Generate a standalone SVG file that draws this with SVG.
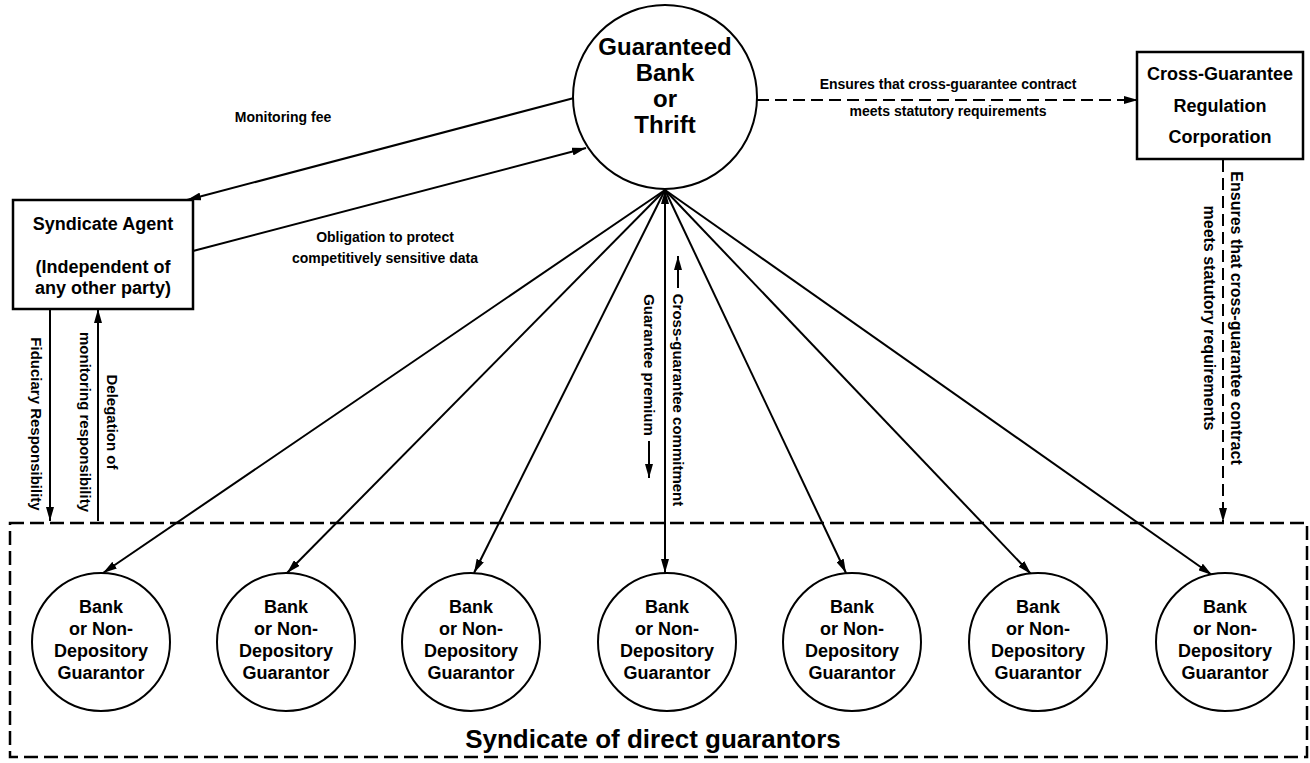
<svg xmlns="http://www.w3.org/2000/svg" width="1310" height="763" viewBox="0 0 1310 763">
<style>
  text { font-family: "Liberation Sans", Arial, Helvetica, sans-serif; font-weight: bold; fill: #000; text-anchor: middle; }
  .shape { fill: #fff; stroke: #000; stroke-width: 2; }
  .box { fill: #fff; stroke: #000; stroke-width: 2.5; }
  .conn { fill: none; stroke: #000; stroke-width: 2; }
  .dash { fill: none; stroke: #000; stroke-width: 2; stroke-dasharray: 12 6; }
  .group { fill: none; stroke: #000; stroke-width: 2.5; stroke-dasharray: 14 6; }
  .big { font-size: 24px; }
  .node { font-size: 18px; }
  .lbl { font-size: 14px; }
  .vlbl { font-size: 15px; }
  .vlbl16 { font-size: 16px; }
  .bottom { font-size: 26px; }
</style>
<defs>
  <marker id="arr" viewBox="0 0 14 8" refX="14" refY="4" markerWidth="14" markerHeight="8" markerUnits="userSpaceOnUse" orient="auto-start-reverse">
    <path d="M0,0 L14,4 L0,8 z" fill="#000"/>
  </marker>
</defs>

<rect width="1310" height="763" fill="#fff"/>

<g id="syndicate-group">
  <rect class="group" x="10" y="523" width="1297" height="234"/>
  <text class="bottom" x="653" y="748">Syndicate of direct guarantors</text>
</g>

<g id="connectors">
  <!-- Guaranteed bank to CGRC -->
  <line class="dash" x1="757" y1="100" x2="1138" y2="100" marker-end="url(#arr)"/>
  <!-- Monitoring fee -->
  <line class="conn" x1="574" y1="98" x2="187" y2="200" marker-end="url(#arr)"/>
  <!-- Obligation -->
  <line class="conn" x1="193" y1="251" x2="586" y2="148" marker-end="url(#arr)"/>
  <!-- Fiduciary -->
  <line class="conn" x1="50" y1="309" x2="50" y2="521" marker-end="url(#arr)"/>
  <!-- Delegation -->
  <line class="conn" x1="98" y1="521" x2="98" y2="309" marker-end="url(#arr)"/>
  <!-- CGRC to syndicate -->
  <line class="dash" x1="1223" y1="160" x2="1223" y2="522" marker-end="url(#arr)"/>
  <!-- radial lines -->
  <line class="conn" x1="665" y1="190" x2="103" y2="573" marker-end="url(#arr)"/>
  <line class="conn" x1="665" y1="190" x2="287" y2="573" marker-end="url(#arr)"/>
  <line class="conn" x1="665" y1="190" x2="474" y2="573" marker-end="url(#arr)"/>
  <line class="conn" x1="665" y1="190" x2="665" y2="573" marker-start="url(#arr)" marker-end="url(#arr)"/>
  <line class="conn" x1="665" y1="190" x2="846" y2="573" marker-end="url(#arr)"/>
  <line class="conn" x1="665" y1="190" x2="1031" y2="574" marker-end="url(#arr)"/>
  <line class="conn" x1="665" y1="190" x2="1212" y2="575" marker-end="url(#arr)"/>
  <!-- small direction arrows beside the central labels -->
  <line class="conn" x1="678" y1="288" x2="678" y2="256" marker-end="url(#arr)"/>
  <line class="conn" x1="649" y1="441" x2="649" y2="478" marker-end="url(#arr)"/>

  <!-- labels -->
  <text class="lbl" x="948" y="89">Ensures that cross-guarantee contract</text>
  <text class="lbl" x="948" y="116">meets statutory requirements</text>
  <text class="lbl" x="283" y="122">Monitoring fee</text>
  <text class="lbl" x="385" y="242">Obligation to protect</text>
  <text class="lbl" x="385" y="263">competitively sensitive data</text>

  <g transform="translate(36,424) rotate(90)"><text class="vlbl" dy="0.36em">Fiduciary Responsibility</text></g>
  <g transform="translate(112,422) rotate(90)"><text class="vlbl" dy="0.36em">Delegation of</text></g>
  <g transform="translate(85,422) rotate(90)"><text class="vlbl" dy="0.36em">monitoring responsibility</text></g>
  <g transform="translate(678,400) rotate(90)"><text class="vlbl" dy="0.36em">Cross-guarantee commitment</text></g>
  <g transform="translate(649,365) rotate(90)"><text class="vlbl" dy="0.36em">Guarantee premium</text></g>
  <g transform="translate(1237,318) rotate(90)"><text class="vlbl16" dy="0.36em">Ensures that cross-guarantee contract</text></g>
  <g transform="translate(1210,318) rotate(90)"><text class="vlbl16" dy="0.36em">meets statutory requirements</text></g>
</g>

<g id="guaranteed-bank">
  <circle class="shape" cx="665" cy="97" r="92"/>
  <text class="big" x="665" y="55">Guaranteed</text>
  <text class="big" x="665" y="81">Bank</text>
  <text class="big" x="665" y="107">or</text>
  <text class="big" x="665" y="133">Thrift</text>
</g>

<g id="cgrc">
  <rect class="box" x="1137" y="52" width="166" height="107"/>
  <text class="node" x="1220" y="80">Cross-Guarantee</text>
  <text class="node" x="1220" y="112">Regulation</text>
  <text class="node" x="1220" y="143">Corporation</text>
</g>

<g id="syndicate-agent">
  <rect class="box" x="13" y="200" width="180" height="109"/>
  <text class="node" x="103" y="230">Syndicate Agent</text>
  <text class="node" x="103" y="273">(Independent of</text>
  <text class="node" x="103" y="294">any other party)</text>
</g>

<g id="guarantor-1">
  <circle class="shape" cx="101" cy="642" r="69"/>
  <text class="node" x="101" y="613">Bank</text>
  <text class="node" x="101" y="635">or Non-</text>
  <text class="node" x="101" y="657">Depository</text>
  <text class="node" x="101" y="679">Guarantor</text>
</g>
<g id="guarantor-2">
  <circle class="shape" cx="286" cy="642" r="69"/>
  <text class="node" x="286" y="613">Bank</text>
  <text class="node" x="286" y="635">or Non-</text>
  <text class="node" x="286" y="657">Depository</text>
  <text class="node" x="286" y="679">Guarantor</text>
</g>
<g id="guarantor-3">
  <circle class="shape" cx="471" cy="642" r="69"/>
  <text class="node" x="471" y="613">Bank</text>
  <text class="node" x="471" y="635">or Non-</text>
  <text class="node" x="471" y="657">Depository</text>
  <text class="node" x="471" y="679">Guarantor</text>
</g>
<g id="guarantor-4">
  <circle class="shape" cx="667" cy="642" r="69"/>
  <text class="node" x="667" y="613">Bank</text>
  <text class="node" x="667" y="635">or Non-</text>
  <text class="node" x="667" y="657">Depository</text>
  <text class="node" x="667" y="679">Guarantor</text>
</g>
<g id="guarantor-5">
  <circle class="shape" cx="852" cy="642" r="69"/>
  <text class="node" x="852" y="613">Bank</text>
  <text class="node" x="852" y="635">or Non-</text>
  <text class="node" x="852" y="657">Depository</text>
  <text class="node" x="852" y="679">Guarantor</text>
</g>
<g id="guarantor-6">
  <circle class="shape" cx="1038" cy="642" r="69"/>
  <text class="node" x="1038" y="613">Bank</text>
  <text class="node" x="1038" y="635">or Non-</text>
  <text class="node" x="1038" y="657">Depository</text>
  <text class="node" x="1038" y="679">Guarantor</text>
</g>
<g id="guarantor-7">
  <circle class="shape" cx="1225" cy="642" r="69"/>
  <text class="node" x="1225" y="613">Bank</text>
  <text class="node" x="1225" y="635">or Non-</text>
  <text class="node" x="1225" y="657">Depository</text>
  <text class="node" x="1225" y="679">Guarantor</text>
</g>
</svg>
